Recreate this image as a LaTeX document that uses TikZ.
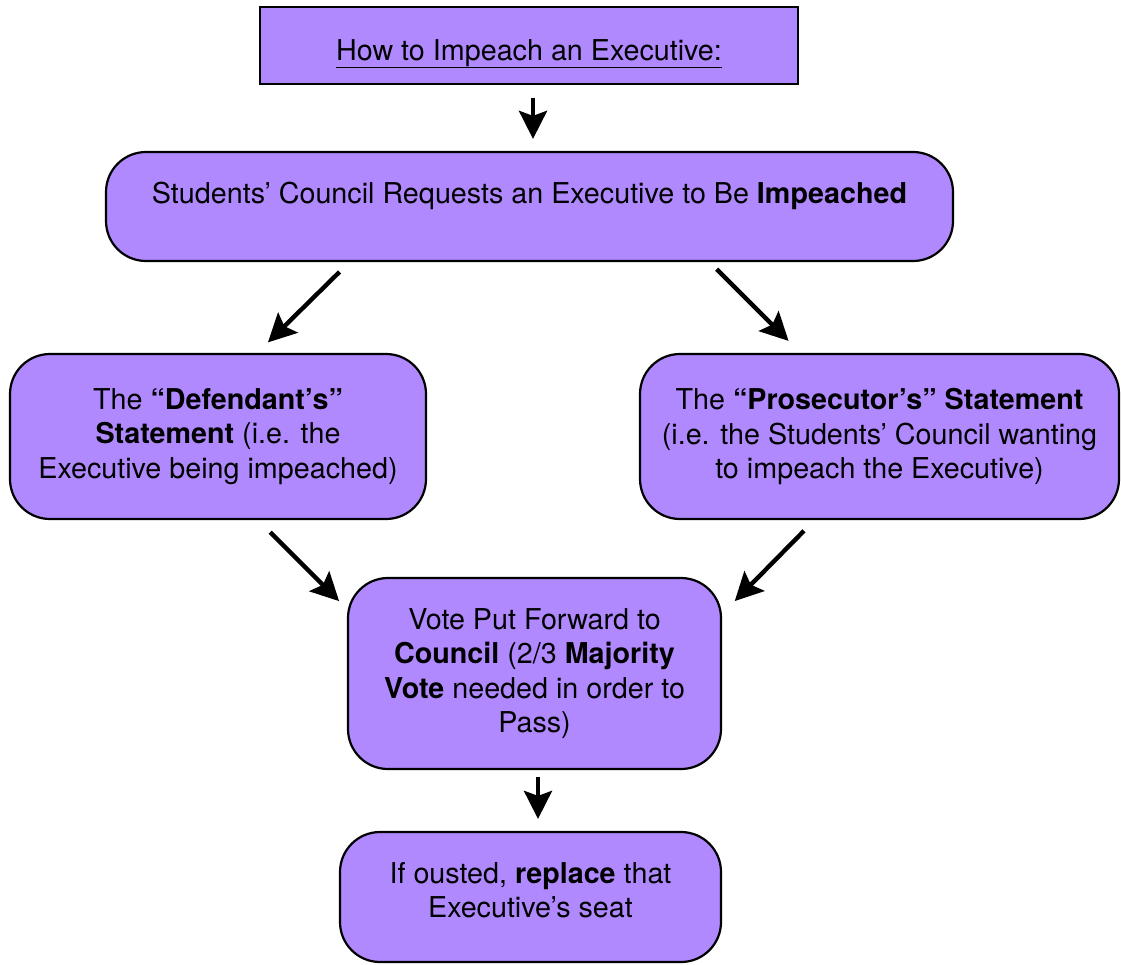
\documentclass[tikz,border=0pt]{standalone}
\usepackage{xcolor}
\usepackage{fontspec}
\setmainfont{TeX Gyre Heros}
\usetikzlibrary{arrows.meta,calc}
\definecolor{boxfill}{RGB}{177,137,255}

\begin{document}
\begin{tikzpicture}[x=1pt,y=-1pt]
				\tikzstyle{heading}=[draw, line width=2.6pt, fill=boxfill, minimum width=538pt, minimum height=77pt, font=\fontsize{28.7}{34.5}\selectfont]
				\tikzstyle{stage}=[draw, line width=2.2pt, fill=boxfill, rounded corners=40pt, align=center, font=\fontsize{28.7}{34.5}\selectfont]
				\tikzset{edge/.style = {-{Stealth[length=28pt,width=28pt,inset=5pt]}, line width=4.4pt}}
				\useasboundingbox (0,0) rectangle (1121,964);

				% title
				\node[heading, text height=35pt, text depth=6pt](title) at (529,45.5) {\underline{How to Impeach an Executive:}};

				% request
				\node[stage, minimum width=847pt, minimum height=109pt, text depth=28pt](req) at (529.5,206.5)
					{Students’ Council Requests an Executive to Be \textbf{Impeached}};
				\draw[edge, shorten <=13pt, shorten >=12pt]([xshift=4pt]title.south) to ([xshift=3.5pt]req.north);

				% statements
				\node[stage, minimum width=416pt, minimum height=165pt](def) at (218,436.5)
					{The \textbf{“Defendant’s”}\\ \textbf{Statement} (i.e. the\\ Executive being impeached)};
				\node[stage, minimum width=479pt, minimum height=165pt](pros) at (879.5,436.5)
					{The \textbf{“Prosecutor’s” Statement}\\ (i.e. the Students’ Council wanting\\ to impeach the Executive)};
				\draw[edge, shorten <=14pt, shorten >=15pt]($(req.south west)!0.288!(req.south east)$) to ($(def.north west)!0.594!(def.north east)$);
				\draw[edge, shorten <=10pt, shorten >=17pt]($(req.south west)!0.712!(req.south east)$) to ($(pros.north west)!0.336!(pros.north east)$);

				% vote
				\node[stage, minimum width=373pt, minimum height=191pt](vote) at (534.5,673.5)
					{Vote Put Forward to\\ \textbf{Council} (2/3 \textbf{Majority}\\ \textbf{Vote} needed in order to\\ Pass)};
				\draw[edge, shorten <=17pt, shorten >=11pt]($(def.south west)!0.596!(def.south east)$) to ($(vote.north west)+(0,32)$);
				\draw[edge, shorten <=15pt, shorten >=18pt]($(pros.south west)!0.365!(pros.south east)$) to ($(vote.north east)+(0,37)$);

				% replace
				\node[stage, minimum width=381pt, minimum height=130pt, text depth=14pt](oust) at (530.5,897)
					{If ousted, \textbf{replace} that\\ Executive’s seat};
				\draw[edge, shorten <=7pt, shorten >=12pt]([xshift=3.5pt]vote.south) to ([xshift=7.5pt]oust.north);
			\end{tikzpicture}
\end{document}
